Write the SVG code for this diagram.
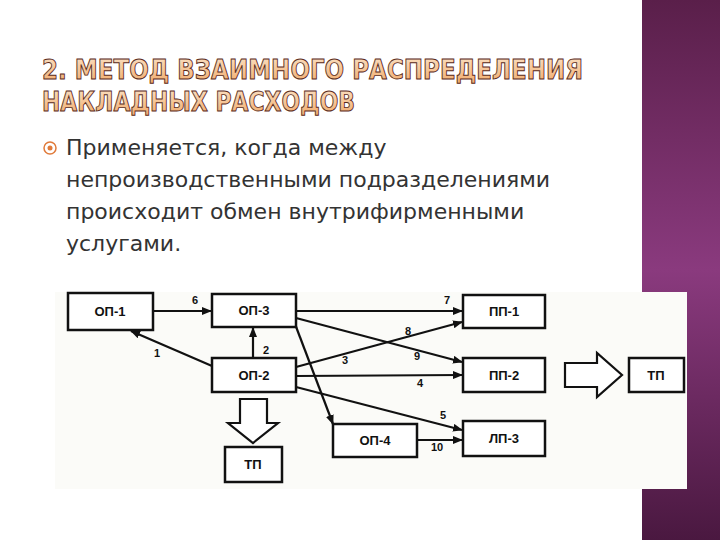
<svg xmlns="http://www.w3.org/2000/svg" width="720" height="540" viewBox="0 0 720 540">
<defs>
<linearGradient id="pur" x1="0" y1="0" x2="0" y2="1">
<stop offset="0" stop-color="#5a1f4a"/><stop offset="0.5" stop-color="#8a3a7e"/><stop offset="1" stop-color="#4a1840"/>
</linearGradient>
<linearGradient id="tg" x1="0" y1="0" x2="0" y2="1">
<stop offset="0" stop-color="#fbe3c8"/><stop offset="1" stop-color="#f0a868"/>
</linearGradient>
<marker id="ah" markerWidth="10" markerHeight="8" refX="9" refY="4" orient="auto" markerUnits="userSpaceOnUse">
<path d="M0,0 L10,4 L0,8 Z" fill="#111"/>
</marker>
<style>
.t{font-family:"Liberation Sans Narrow","DejaVu Sans Condensed","Liberation Sans",sans-serif;font-size:27px;font-weight:bold;fill:url(#tg);stroke:#5a2a1a;stroke-width:0.9}
.b{font-family:"DejaVu Sans","Noto Sans",sans-serif;font-size:22px;fill:#333}
.box{fill:#fff;stroke:#111;stroke-width:2.5}
.lb{font-family:"Liberation Sans",Arial,sans-serif;font-size:13px;font-weight:bold;fill:#111;text-anchor:middle}
.n{font-family:"Liberation Sans",Arial,sans-serif;font-size:11px;font-weight:bold;fill:#111;text-anchor:middle}
.c{stroke:#111;stroke-width:2.2;fill:none;marker-end:url(#ah)}
.big{fill:#fff;stroke:#111;stroke-width:2.2}
</style>
</defs>
<rect width="720" height="540" fill="#fff"/>
<rect x="642" y="0" width="78" height="540" fill="url(#pur)"/>
<rect x="55" y="292" width="632" height="197" fill="#fbfbf8"/>
<text class="t" x="42" y="79" textLength="541" lengthAdjust="spacingAndGlyphs">2. МЕТОД ВЗАИМНОГО РАСПРЕДЕЛЕНИЯ</text>
<text class="t" x="42" y="111" textLength="313" lengthAdjust="spacingAndGlyphs">НАКЛАДНЫХ РАСХОДОВ</text>
<circle cx="50" cy="148" r="6" fill="none" stroke="#e07a3a" stroke-width="1.5"/>
<circle cx="50" cy="148" r="2.5" fill="#e07a3a"/>
<text class="b" x="66" y="155">Применяется, когда между</text>
<text class="b" x="66" y="187">непроизводственными подразделениями</text>
<text class="b" x="66" y="219">происходит обмен внутрифирменными</text>
<text class="b" x="66" y="251">услугами.</text>
<g id="connectors">
<line class="c" x1="153" y1="311" x2="211" y2="311"/>
<line class="c" x1="212" y1="366" x2="131" y2="331"/>
<line class="c" x1="253" y1="358" x2="253" y2="328"/>
<line class="c" x1="296" y1="311" x2="462" y2="311"/>
<line class="c" x1="296" y1="367" x2="462" y2="322"/>
<line class="c" x1="296" y1="318" x2="462" y2="362"/>
<line class="c" x1="296" y1="376" x2="462" y2="375"/>
<line class="c" x1="296" y1="387" x2="462" y2="430"/>
<line class="c" x1="295" y1="324" x2="333" y2="424"/>
<line class="c" x1="417" y1="440" x2="462" y2="440"/>
<text class="n" x="195" y="304">6</text>
<text class="n" x="157" y="357">1</text>
<text class="n" x="266" y="354">2</text>
<text class="n" x="447" y="304">7</text>
<text class="n" x="408" y="335">8</text>
<text class="n" x="345" y="364">3</text>
<text class="n" x="417" y="360">9</text>
<text class="n" x="420" y="387">4</text>
<text class="n" x="443" y="419">5</text>
<text class="n" x="437" y="451">10</text>
<path class="big" d="M240,399 H267 V423 H278 L253,443 L228,423 H240 Z"/>
<path class="big" d="M565,363 H597 V353 L622,375 L597,397 V387 H565 Z"/>
</g>
<g id="op1"><rect class="box" x="68" y="293" width="85" height="37"/><text class="lb" x="110" y="316">ОП-1</text></g>
<g id="op3"><rect class="box" x="212" y="294" width="84" height="33"/><text class="lb" x="254" y="315">ОП-3</text></g>
<g id="op2"><rect class="box" x="212" y="358" width="84" height="34"/><text class="lb" x="254" y="380">ОП-2</text></g>
<g id="tp1"><rect class="box" x="225" y="447" width="57" height="35"/><text class="lb" x="253" y="469">ТП</text></g>
<g id="op4"><rect class="box" x="333" y="424" width="84" height="33"/><text class="lb" x="375" y="445">ОП-4</text></g>
<g id="pp1"><rect class="box" x="463" y="295" width="82" height="33"/><text class="lb" x="504" y="316">ПП-1</text></g>
<g id="pp2"><rect class="box" x="463" y="358" width="82" height="34"/><text class="lb" x="504" y="380">ПП-2</text></g>
<g id="lp3"><rect class="box" x="463" y="421" width="82" height="35"/><text class="lb" x="504" y="443">ЛП-3</text></g>
<g id="tp2"><rect class="box" x="629" y="358" width="55" height="34"/><text class="lb" x="656" y="380">ТП</text></g>
</svg>
